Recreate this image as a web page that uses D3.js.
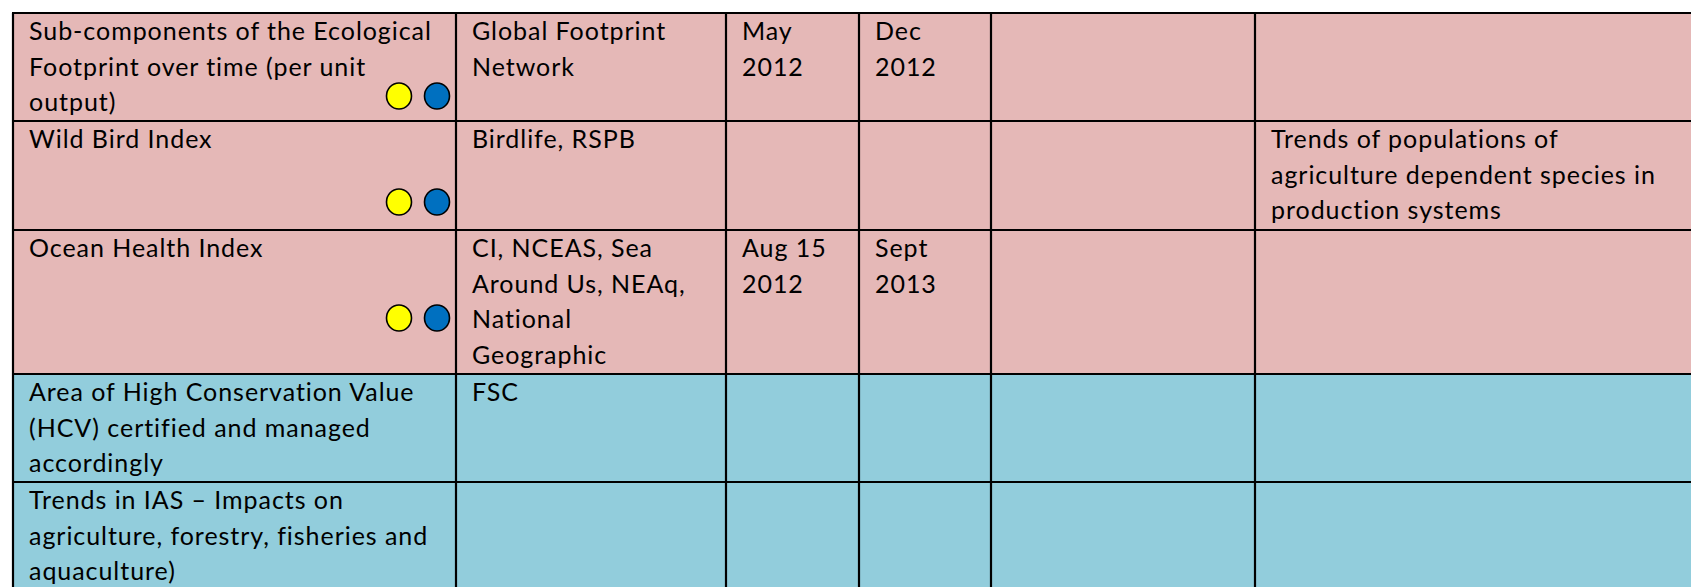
<!DOCTYPE html>
<html>
<head>
<meta charset="utf-8">
<script src="https://cdn.jsdelivr.net/npm/d3@7"></script>
<style>
  html, body { margin: 0; padding: 0; background: #fff; overflow: hidden; }
  svg { display: block; }
  text { font-family: Lato, "Open Sans", sans-serif; font-size: 25px; letter-spacing: 0.95px; fill: #000; }
</style>
</head>
<body>
<svg></svg>
<script>
// table contents, one entry per row
const indicators = [
    "Sub-components of the Ecological\nFootprint over time (per unit\noutput)",
    "Wild Bird Index",
    "Ocean Health Index",
    "Area of High Conservation Value\n(HCV) certified and managed\naccordingly",
    "Trends in IAS \u2013 Impacts on\nagriculture, forestry, fisheries and\naquaculture)"
];
const partners = [
    "Global Footprint\nNetwork",
    "Birdlife, RSPB",
    "CI, NCEAS, Sea\nAround Us, NEAq,\nNational\nGeographic",
    "FSC",
    ""
];
const startDates = ["May\n2012", "", "Aug 15\n2012", "", ""];
const endDates = ["Dec\n2012", "", "Sept\n2013", "", ""];
const extra = ["", "", "", "", ""];
const notes = [
    "",
    "Trends of populations of\nagriculture dependent species in\nproduction systems",
    "",
    "",
    ""
];
const rowGroup = ["pink", "pink", "pink", "blue", "blue"];
const hasDots = [true, true, true, false, false];
const dotColors = ["#ffff00", "#0070c0"];

const WIDTH = 1691,
    HEIGHT = 587,
    LINE = 35.6,
    PAD_X = 16,
    PAD_Y = 27;

const columns = [indicators, partners, startDates, endDates, extra, notes];
const colEdges = [13, 456, 726, 859, 991, 1255, 1710];
const rowEdges = [13, 121, 230, 374, 482, 600];
// vertical offset of the circles from the row top
const dotOffset = [83, 81, 88];

const x = d3.scaleOrdinal().domain(d3.range(colEdges.length)).range(colEdges);
const y = d3.scaleOrdinal().domain(d3.range(rowEdges.length)).range(rowEdges);
const fill = d3.scaleOrdinal().domain(["pink", "blue"]).range(["#e5b8b7", "#92cddc"]);

const svg = d3.select("svg").attr("width", WIDTH).attr("height", HEIGHT);

const cells = [];
indicators.forEach((_, r) => {
    columns.forEach((col, c) => {
        cells.push({ r, c, text: col[r] });
    });
});

// backgrounds
svg.append("g").selectAll("rect")
    .data(indicators)
    .join("rect")
    .attr("x", x(0))
    .attr("y", (d, i) => y(i))
    .attr("width", x(columns.length) - x(0))
    .attr("height", (d, i) => y(i + 1) - y(i))
    .attr("fill", (d, i) => fill(rowGroup[i]));

// cell texts
const txt = svg.append("g").selectAll("text")
    .data(cells.filter((d) => d.text))
    .join("text")
    .attr("x", (d) => x(d.c) + PAD_X)
    .attr("y", (d) => y(d.r) + PAD_Y);
txt.selectAll("tspan")
    .data((d) => d.text.split("\n").map((line, k) => ({ line, k, d })))
    .join("tspan")
    .attr("x", (t) => x(t.d.c) + PAD_X)
    .attr("y", (t) => y(t.d.r) + PAD_Y + t.k * LINE)
    .text((t) => t.line);

// coloured circles in the first column
const dotRows = hasDots.map((v, i) => (v ? i : -1)).filter((i) => i >= 0);
svg.append("g").selectAll("g")
    .data(dotRows)
    .join("g")
    .attr("transform", (r) => `translate(0,${y(r) + dotOffset[r]})`)
    .selectAll("ellipse")
    .data(dotColors)
    .join("ellipse")
    .attr("cx", (d, i) => x(1) - 57 + i * 38)
    .attr("cy", 0)
    .attr("rx", 12.5)
    .attr("ry", 13)
    .attr("fill", (d) => d)
    .attr("stroke", "#000")
    .attr("stroke-width", 1.6);

// grid lines
const grid = svg.append("g").attr("stroke", "#000").attr("stroke-width", 2.2);
grid.selectAll("line.h")
    .data(d3.range(rowEdges.length))
    .join("line")
    .attr("class", "h")
    .attr("x1", x(0) - 1)
    .attr("x2", x(columns.length))
    .attr("y1", (i) => y(i))
    .attr("y2", (i) => y(i));
grid.selectAll("line.v")
    .data(d3.range(columns.length))
    .join("line")
    .attr("class", "v")
    .attr("x1", (i) => x(i))
    .attr("x2", (i) => x(i))
    .attr("y1", y(0))
    .attr("y2", y(rowEdges.length - 1));
</script>
</body>
</html>
